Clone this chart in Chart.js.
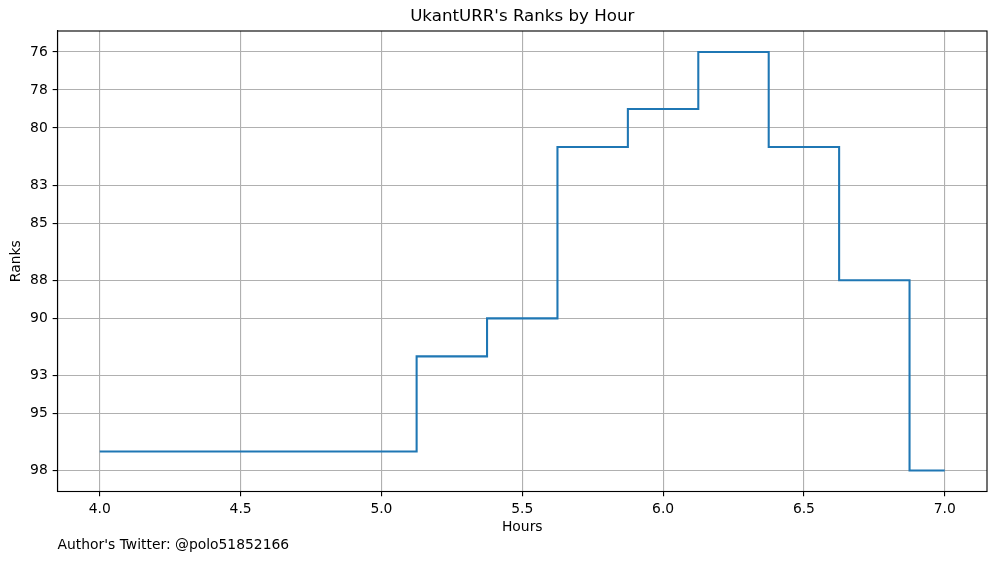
<!DOCTYPE html>
<html>
<head>
<meta charset="utf-8">
<script src="https://cdn.jsdelivr.net/npm/chart.js@4.4.1/dist/chart.umd.min.js"></script>
<style>
html,body{margin:0;padding:0;background:#fff;}
#wrap{width:997px;height:562px;}
</style>
</head>
<body>
<div id="wrap"><canvas id="c" width="997" height="562"></canvas></div>
<script>
const HOURS = [4.0, 4.25, 4.5, 4.75, 5.0, 5.25, 5.5, 5.75, 6.0, 6.25, 6.5, 6.75, 7.0];
const RANKS = [97, 97, 97, 97, 97, 92, 90, 81, 79, 76, 81, 88, 98];
const X_TICKS = [4.0, 4.5, 5.0, 5.5, 6.0, 6.5, 7.0];
const Y_TICKS = [76, 78, 80, 83, 85, 88, 90, 93, 95, 98];
const TITLE = "UkantURR's Ranks by Hour";
const X_LABEL = "Hours";
const Y_LABEL = "Ranks";
const FOOTER = "Author's Twitter: @polo51852166";

const FONT = "'DejaVu Sans', sans-serif";
const PT = 100/72;

const framePlugin = {
  id: 'frame',
  afterDraw(chart) {
    const {ctx, chartArea: a} = chart;
    ctx.save();
    ctx.strokeStyle = '#000';
    ctx.lineWidth = 0.8*PT;
    ctx.strokeRect(a.left, a.top, a.right - a.left, a.bottom - a.top);
    ctx.fillStyle = '#000';
    ctx.font = (10*PT) + 'px ' + FONT;
    ctx.textAlign = 'left';
    ctx.textBaseline = 'middle';
    ctx.fillText(FOOTER, a.left, 545);
    ctx.restore();
  }
};

const xmin = 4.0 - 0.05*3, xmax = 7.0 + 0.05*3;
const ymin = 76 - 0.05*22, ymax = 98 + 0.05*22;

new Chart(document.getElementById('c'), {
  type: 'line',
  data: {
    datasets: [{
      data: HOURS.map((h, i) => ({x: h, y: RANKS[i]})),
      borderColor: '#1f77b4',
      borderWidth: 1.5*PT,
      stepped: 'middle',
      pointRadius: 0,
      fill: false
    }]
  },
  options: {
    responsive: false,
    animation: false,
    devicePixelRatio: 1,
    layout: {padding: {top: 0, right: 10, left: 0, bottom: 0}},
    plugins: {
      legend: {display: false},
      tooltip: {enabled: false},
      title: {
        display: true,
        text: TITLE,
        fullSize: false,
        color: '#000',
        font: {family: FONT, size: 12*PT, weight: 'normal', lineHeight: 1.2},
        padding: {top: 6.5, bottom: 4.5}
      }
    },
    scales: {
      x: {
        type: 'linear',
        min: xmin, max: xmax,
        afterBuildTicks(s) { s.ticks = X_TICKS.map(v => ({value: v})); },
        afterFit(s) { s.height = 562 - 491.5; },
        ticks: {
          color: '#000',
          padding: 3.5*PT,
          font: {family: FONT, size: 10*PT},
          maxRotation: 0,
          autoSkip: false,
          callback: v => Number(v).toFixed(1)
        },
        grid: {color: '#b0b0b0', lineWidth: 0.8*PT, tickColor: '#000', tickLength: 3.5*PT, drawTicks: true},
        border: {display: true, color: '#000', width: 0.8*PT},
        title: {display: true, text: X_LABEL, color: '#000', font: {family: FONT, size: 10*PT, lineHeight: 1.2}, padding: {top: 0, bottom: 26}}
      },
      y: {
        type: 'linear',
        reverse: true,
        min: ymin, max: ymax,
        afterBuildTicks(s) { s.ticks = Y_TICKS.map(v => ({value: v})); },
        afterFit(s) { s.width = 57.5; },
        ticks: {
          color: '#000',
          padding: 3.5*PT,
          font: {family: FONT, size: 10*PT},
          autoSkip: false,
          callback: v => String(Math.round(v))
        },
        grid: {color: '#b0b0b0', lineWidth: 0.8*PT, tickColor: '#000', tickLength: 3.5*PT, drawTicks: true},
        border: {display: true, color: '#000', width: 0.8*PT},
        title: {display: true, text: Y_LABEL, color: '#000', font: {family: FONT, size: 10*PT, lineHeight: 1.2}, padding: {top: 8.5, bottom: 0}}
      }
    }
  },
  plugins: [framePlugin]
});
</script>
</body>
</html>
